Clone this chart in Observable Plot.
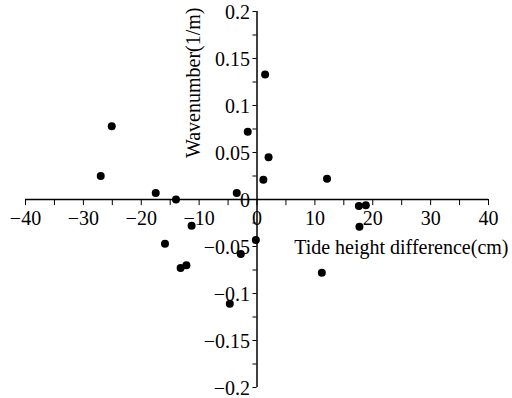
<!DOCTYPE html>
<html><head><meta charset="utf-8">
<script src="https://cdn.jsdelivr.net/npm/d3@7"></script>
<script src="https://cdn.jsdelivr.net/npm/@observablehq/plot@0.6"></script>
<style>body{margin:0;background:#fff}</style>
</head><body><div id="chart"></div>
<script>
const tideDiff = [-25.1, -27.0, -17.5, -14.0, -3.5, -1.6, 1.4, 2.0, 1.1, 12.1, -11.3, -15.9, -13.2, -12.2, -2.8, -0.2, -4.7, 17.6, 18.8, 17.7, 11.2];
const wavenumber = [0.078, 0.025, 0.007, 0.0, 0.007, 0.072, 0.133, 0.045, 0.021, 0.022, -0.028, -0.047, -0.073, -0.070, -0.058, -0.043, -0.111, -0.007, -0.006, -0.029, -0.078];
const xTickLabels = [-40, -30, -20, -10, 0, 10, 20, 30, 40];
const xMinorTicks = [-35, -25, -15, -5, 5, 15, 25, 35];
const yTickLabels = [0.2, 0.15, 0.1, 0.05, 0, -0.05, -0.1, -0.15, -0.2];
const yMinorTicks = [0.175, 0.125, 0.075, 0.025, -0.025, -0.075, -0.125, -0.175];

const pts = tideDiff.map((x, i) => ({x, y: wavenumber[i]}));
const fmt = v => v < 0 ? "\u2212" + String(-v) : String(v);
const font = "Times New Roman, Times, DejaVu Serif, serif";

const chart = Plot.plot({
  width: 512, height: 398,
  marginLeft: 25, marginRight: 24, marginTop: 11, marginBottom: 11,
  x: {domain: [-40, 40], axis: null},
  y: {domain: [-0.2, 0.2], axis: null},
  style: {background: "#fff", color: "#000"},
  marks: [
    Plot.ruleY([0], {x1: -40, x2: 40, stroke: "#000", strokeWidth: 1.5}),
    Plot.ruleX([0], {y1: -0.2, y2: 0.2, stroke: "#000", strokeWidth: 1.5}),
    Plot.ruleX([...xTickLabels, ...xMinorTicks], {x: d => d, y1: 0, y2: -0.0065, stroke: "#000", strokeWidth: 1}),
    Plot.ruleY([...yTickLabels, ...yMinorTicks], {y: d => d, x1: 0, x2: -0.7, stroke: "#000", strokeWidth: 1}),
    Plot.text(xTickLabels, {x: d => d, y: 0, dy: 19, text: d => fmt(d), fontSize: 20, fontFamily: font, fill: "#000"}),
    Plot.text(yTickLabels, {x: 0, y: d => d, dx: -7, dy: 1, text: d => fmt(d), textAnchor: "end", fontSize: 20, fontFamily: font, fill: "#000"}),
    Plot.text(["Tide height difference(cm)"], {x: 40, y: 0, dx: 20, dy: 48, textAnchor: "end", fontSize: 20, fontFamily: font, fill: "#000"}),
    Plot.text(["Wavenumber(1/m)"], {x: 0, y: 0.2, dx: -63, dy: -4, rotate: -90, textAnchor: "end", fontSize: 20, fontFamily: font, fill: "#000"}),
    Plot.dot(pts, {x: "x", y: "y", r: 4, fill: "#000", stroke: "none"})
  ]
});
document.getElementById("chart").appendChild(chart);
</script>
</body></html>
